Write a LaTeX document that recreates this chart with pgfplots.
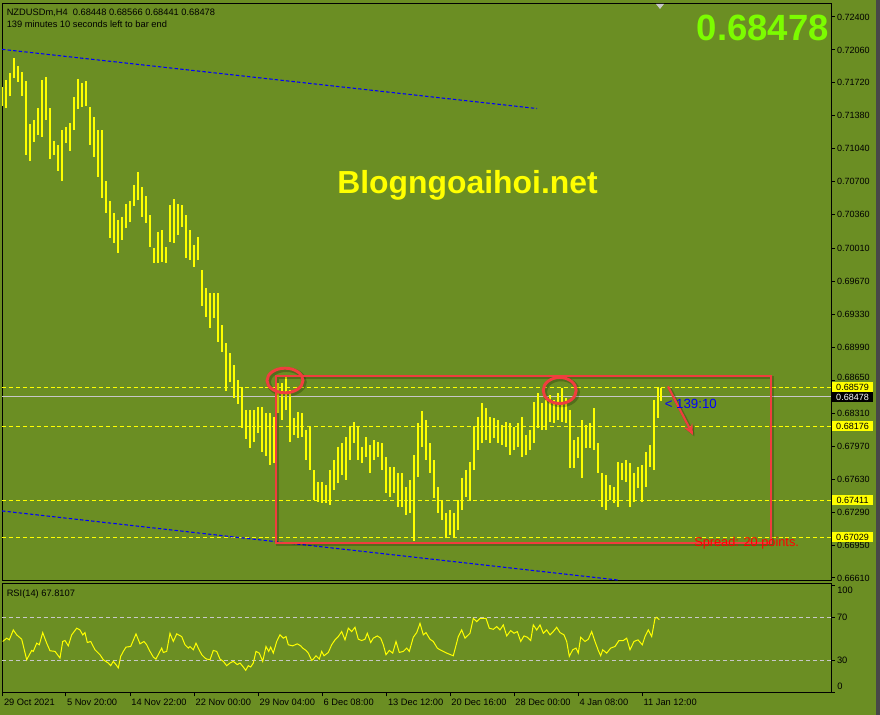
\documentclass[border=0pt]{standalone}
\usepackage{fontspec}
\setmainfont{Liberation Sans}
\usepackage{pgfplots}
\pgfplotsset{compat=1.18}
\usepackage{pgfplotstable}
\usetikzlibrary{arrows.meta}
\definecolor{bg}{RGB}{107,142,35}
\definecolor{lvl}{RGB}{255,255,0}
\definecolor{limeg}{RGB}{124,252,0}
\definecolor{rd}{RGB}{240,62,62}
\definecolor{sil}{RGB}{200,200,200}
\definecolor{chan}{RGB}{0,0,255}

\pgfplotstableread{
x h l
2 0.71677 0.71481
6 0.71749 0.71460
10 0.71822 0.71584
14 0.71976 0.71770
18 0.71894 0.71729
22 0.71832 0.71584
26 0.71739 0.70975
30 0.71295 0.70914
34 0.71337 0.71110
38 0.71460 0.71182
42 0.71749 0.71161
46 0.71780 0.71337
50 0.71460 0.70934
54 0.71120 0.70975
58 0.71079 0.70810
62 0.71233 0.70707
66 0.71264 0.71099
70 0.71306 0.71017
74 0.71574 0.71233
78 0.71760 0.71450
82 0.71718 0.71471
86 0.71739 0.71481
90 0.71471 0.71079
94 0.71368 0.70955
98 0.71233 0.70748
102 0.71233 0.70532
106 0.70707 0.70377
110 0.70501 0.70119
114 0.70377 0.70067
118 0.70305 0.69964
122 0.70336 0.70098
126 0.70470 0.70222
130 0.70501 0.70284
134 0.70666 0.70449
138 0.70800 0.70511
142 0.70645 0.70336
146 0.70552 0.70274
150 0.70356 0.70026
154 0.70016 0.69861
158 0.70181 0.69861
162 0.70201 0.69871
166 0.70026 0.69861
170 0.70459 0.70078
174 0.70521 0.70067
178 0.70470 0.70150
182 0.70459 0.70232
186 0.70356 0.69912
190 0.70201 0.69892
194 0.70047 0.69820
198 0.70129 0.69892
202 0.69789 0.69417
206 0.69603 0.69304
210 0.69551 0.69190
214 0.69551 0.69293
218 0.69551 0.69046
222 0.69221 0.68942
226 0.69035 0.68540
230 0.68932 0.68633
234 0.68808 0.68468
238 0.68653 0.68406
242 0.68581 0.68158
246 0.68344 0.68044
250 0.68344 0.67951
254 0.68344 0.68014
258 0.68375 0.68106
262 0.68375 0.67911
266 0.68313 0.67869
270 0.68313 0.67776
274 0.68272 0.67797
278 0.68622 0.68313
282 0.68622 0.68241
286 0.68695 0.68344
290 0.68550 0.68014
294 0.68261 0.68086
298 0.68323 0.68055
302 0.68313 0.68065
306 0.68137 0.67828
310 0.68168 0.67725
314 0.67725 0.67415
318 0.67601 0.67394
322 0.67601 0.67384
326 0.67570 0.67384
330 0.67725 0.67363
334 0.67828 0.67518
338 0.67962 0.67590
342 0.68003 0.67673
346 0.68065 0.67621
350 0.68168 0.67828
354 0.68220 0.68003
358 0.68168 0.67828
362 0.67962 0.67797
366 0.68065 0.67859
370 0.67983 0.67694
374 0.68034 0.67828
378 0.68014 0.67859
382 0.68003 0.67725
386 0.67859 0.67487
390 0.67756 0.67446
394 0.67756 0.67487
398 0.67694 0.67343
402 0.67694 0.67343
406 0.67549 0.67260
410 0.67621 0.67281
414 0.67879 0.66993
418 0.68210 0.67652
422 0.68334 0.67962
426 0.68241 0.67828
430 0.68003 0.67694
434 0.67828 0.67436
438 0.67549 0.67281
442 0.67415 0.67209
446 0.67281 0.67023
450 0.67312 0.67054
454 0.67281 0.67033
458 0.67415 0.67106
462 0.67642 0.67312
466 0.67725 0.67446
470 0.67807 0.67415
474 0.68168 0.67725
478 0.68272 0.67931
482 0.68416 0.68003
486 0.68364 0.68034
490 0.68272 0.68003
494 0.68261 0.68055
498 0.68241 0.68003
502 0.68189 0.67983
506 0.68220 0.67962
510 0.68210 0.67879
514 0.68168 0.67931
518 0.68210 0.67962
522 0.68272 0.67859
526 0.68086 0.67879
530 0.68137 0.67931
534 0.68424 0.68003
538 0.68519 0.68158
542 0.68416 0.68137
546 0.68447 0.68137
550 0.68499 0.68220
554 0.68447 0.68210
558 0.68519 0.68241
562 0.68571 0.68220
566 0.68468 0.68210
570 0.68344 0.67745
574 0.68034 0.67745
578 0.68065 0.67848
582 0.68241 0.67642
586 0.68189 0.67951
590 0.68210 0.67951
594 0.68364 0.67931
598 0.68003 0.67694
602 0.67694 0.67343
606 0.67673 0.67312
610 0.67570 0.67415
614 0.67549 0.67384
618 0.67807 0.67343
622 0.67797 0.67621
626 0.67828 0.67601
630 0.67797 0.67343
634 0.67694 0.67394
638 0.67756 0.67539
642 0.67776 0.67394
646 0.67911 0.67549
650 0.67983 0.67756
654 0.68447 0.67725
658 0.68581 0.68261
661 0.68566 0.68441
}\bars

\begin{document}
\begin{tikzpicture}
\fill[bg] (0,0) rectangle (660bp,536.25bp);
\fill[black!72] (657bp,0) rectangle (660bp,536.25bp);

% ---------------- main price panel
\begin{axis}[
  at={(1.5bp,100.5bp)}, anchor=south west,
  width=621.75bp, height=432.75bp, scale only axis,
  xmin=2, xmax=831, ymin=0.66579, ymax=0.72534,
  clip mode=individual,
  axis line style={black, line width=0.75bp},
  xtick=\empty,
  ytick={0.72400,0.72060,0.71720,0.71380,0.71040,0.70700,0.70360,0.70010,0.69670,0.69330,0.68990,0.68310,0.67970,0.67630,0.67290,0.66950,0.66610},
  yticklabels={0.72400,0.72060,0.71720,0.71380,0.71040,0.70700,0.70360,0.70010,0.69670,0.69330,0.68990,0.68310,0.67970,0.67630,0.67290,0.66950,0.66610},
  extra y ticks={0.68650}, extra y tick labels={0.68650},
  extra y tick style={yticklabel style={yshift=2.2bp}},
  scaled y ticks=false,
  ytick pos=right, yticklabel pos=right,
  tick align=outside, major tick length=3bp,
  tick style={black, line width=0.75bp},
  yticklabel style={font=\fontsize{6.8}{8}\selectfont, anchor=west, inner sep=0pt, xshift=1.3bp, text=black},
]
% horizontal levels
\addplot[lvl, line width=0.75bp, dash pattern=on 3bp off 2.2bp] coordinates {(2,0.68579) (831,0.68579)};
\addplot[lvl, line width=0.75bp, dash pattern=on 3bp off 2.2bp] coordinates {(2,0.68176) (831,0.68176)};
\addplot[lvl, line width=0.75bp, dash pattern=on 3bp off 2.2bp] coordinates {(2,0.67411) (831,0.67411)};
\addplot[lvl, line width=0.75bp, dash pattern=on 3bp off 2.2bp] coordinates {(2,0.67029) (831,0.67029)};
\addplot[sil, line width=0.75bp] coordinates {(2,0.68478) (831,0.68478)};
% channel lines
\addplot[chan, line width=0.8bp, dash pattern=on 2.6bp off 1.6bp] coordinates {(2,0.72066) (537,0.71455)};
\addplot[chan, line width=0.8bp, dash pattern=on 2.6bp off 1.6bp] coordinates {(2,0.67302) (618,0.66589)};
% price bars (high-low)
\addplot[draw=none, mark=none,
  error bars/.cd, y dir=minus, y explicit, error mark=none,
  error bar style={draw=lvl, line width=1.75bp}]
  table[x=x, y=h, y error expr=\thisrow{h}-\thisrow{l}] {\bars};
\coordinate (L1) at (axis cs:831,0.68579);
\coordinate (L2) at (axis cs:831,0.68478);
\coordinate (L3) at (axis cs:831,0.68176);
\coordinate (L4) at (axis cs:831,0.67411);
\coordinate (L5) at (axis cs:831,0.67029);
\end{axis}

% ---------------- RSI panel
\begin{axis}[
  at={(1.5bp,16.875bp)}, anchor=south west,
  width=621.75bp, height=81.75bp, scale only axis,
  xmin=2, xmax=831, ymin=-0.4, ymax=101.7,
  clip mode=individual,
  axis line style={black, line width=0.75bp},
  xtick={2.7,65.7,130,194.3,258.3,322.3,386.7,450,514,578.3,642.3},
  xticklabels={29 Oct 2021,5 Nov 20:00,14 Nov 22:00,22 Nov 00:00,29 Nov 04:00,6 Dec 08:00,13 Dec 12:00,20 Dec 16:00,28 Dec 00:00,4 Jan 08:00,11 Jan 12:00},
  ytick={30,70}, yticklabels={30,70},
  extra y ticks={0,100}, extra y tick labels={},
  xtick pos=left, xticklabel pos=left,
  ytick pos=right, yticklabel pos=right,
  tick align=outside, major tick length=3bp,
  tick style={black, line width=0.75bp},
  yticklabel style={font=\fontsize{7}{8}\selectfont, anchor=west, inner sep=0pt, xshift=1.3bp, text=black},
  xticklabel style={font=\fontsize{7}{8}\selectfont, anchor=north west, inner sep=0pt, xshift=0.8bp, yshift=-1.5bp, text=black},
]
\addplot[sil, line width=0.75bp, dash pattern=on 3bp off 2.2bp] coordinates {(2,70) (831,70)};
\addplot[sil, line width=0.75bp, dash pattern=on 3bp off 2.2bp] coordinates {(2,30) (831,30)};
\addplot[lvl, line width=0.75bp] coordinates {
(2.7,47.4) (6.7,50.5) (9.3,48.9) (13.3,58.2) (16.7,53.6) (21.7,49.5) (26.7,30.3) (31.7,39.0)
(33.3,38.1) (36.7,45.8) (39.3,44.3) (42.7,55.7) (46.7,45.8) (50.0,38.7) (55.0,38.1) (60.0,31.9)
(62.7,47.4) (65.0,48.3) (68.3,43.3) (71.7,53.6) (76.7,59.8) (80.0,58.2) (82.7,53.6) (85.0,55.7)
(87.3,46.4) (90.7,47.4) (95.0,39.6) (100.0,35.0) (103.3,30.3) (108.3,27.2) (110.7,24.7) (113.3,28.8)
(116.0,25.7) (118.3,22.6) (120.7,33.4) (123.3,38.1) (126.0,42.1) (130.7,42.7) (136.0,54.5) (140.0,45.2)
(144.0,47.4) (146.7,44.3) (150.0,38.1) (153.3,32.8) (156.0,30.9) (158.7,35.9) (161.7,41.2) (163.3,37.1)
(166.7,38.1) (170.0,55.1) (173.3,47.4) (176.7,54.5) (181.7,52.0) (185.0,44.3) (188.3,41.2) (190.0,42.7)
(193.3,39.6) (196.0,45.8) (198.3,41.2) (201.7,35.0) (205.0,31.9) (206.7,30.9) (210.0,30.3) (213.3,39.0)
(216.7,38.1) (220.0,30.9) (223.3,28.8) (226.7,24.7) (230.0,27.2) (233.3,28.8) (237.3,25.7) (240.0,27.2)
(243.3,23.5) (245.7,20.4) (248.3,24.7) (250.7,23.5) (253.3,27.2) (256.0,38.1) (259.3,36.5) (262.7,28.8)
(266.0,42.7) (268.7,38.1) (270.7,42.1) (273.3,36.5) (276.7,47.4) (280.0,53.6) (283.3,50.5) (286.0,52.0)
(288.3,44.3) (292.7,43.3) (297.3,45.2) (300.7,43.3) (302.7,41.2) (306.0,39.0) (308.3,36.5) (311.7,29.7)
(313.3,30.9) (316.0,34.0) (319.3,30.9) (321.7,38.1) (324.0,34.0) (328.3,37.1) (331.7,44.3) (335.0,48.9)
(338.3,52.0) (341.7,56.7) (345.0,48.9) (348.3,59.8) (351.7,56.7) (355.0,60.7) (358.3,49.5) (361.7,48.3)
(365.0,49.5) (367.3,55.1) (370.7,46.4) (373.3,50.5) (377.3,52.6) (380.7,50.5) (383.3,44.3) (386.0,35.0)
(389.3,39.0) (392.7,36.5) (396.0,47.4) (399.3,37.1) (403.3,38.1) (406.7,41.2) (409.3,38.1) (413.3,51.4)
(416.7,55.7) (420.0,64.4) (423.3,53.6) (426.0,55.7) (430.0,49.5) (433.3,47.4) (437.3,41.2) (440.0,39.6)
(446.7,36.5) (453.3,34.0) (458.3,52.0) (461.7,58.2) (465.0,50.5) (470.0,55.1) (473.3,69.1) (476.7,66.0)
(480.0,69.1) (486.0,69.1) (489.3,59.8) (493.3,58.8) (496.7,61.3) (500.0,58.2) (503.3,62.9) (506.7,52.6)
(510.7,57.6) (514.0,55.1) (517.3,56.7) (520.7,47.4) (524.0,52.6) (527.3,51.4) (530.7,48.3) (533.3,62.9)
(536.7,58.2) (540.0,62.9) (543.3,55.1) (546.7,58.2) (550.0,53.6) (553.3,56.7) (556.7,60.7) (560.0,55.7)
(564.0,53.6) (566.7,47.4) (569.3,33.4) (572.7,39.6) (576.0,41.2) (578.3,36.5) (580.7,51.4) (585.0,47.4)
(588.3,49.5) (591.7,56.7) (595.0,47.4) (598.3,39.0) (600.7,34.0) (602.7,39.6) (606.7,36.5) (610.7,41.2)
(615.0,42.7) (619.0,48.3) (623.3,48.3) (626.7,50.5) (630.0,39.6) (634.0,47.4) (638.0,48.9) (642.3,44.3)
(645.0,52.0) (648.3,58.2) (651.7,52.0) (655.0,69.1) (656.7,70.0) (659.3,67.8)
};
\end{axis}

% level price boxes on the right scale
\foreach \c/\t in {L1/0.68579,L3/0.68176,L4/0.67411,L5/0.67029}
  \node[fill=lvl, text=black, anchor=west, inner sep=0pt, minimum width=30.75bp, minimum height=7.6bp,
        font=\fontsize{6.8}{8}\selectfont, xshift=0.6bp] at (\c) {\t};
\node[fill=black, text=white, anchor=west, inner sep=0pt, minimum width=30.75bp, minimum height=7.6bp,
      font=\fontsize{6.8}{8}\selectfont, xshift=0.6bp] at (L2) {0.68478};

% ---------------- annotations in pixel coordinates
\begin{scope}[x=0.75bp, y=-0.75bp, shift={(0bp,536.25bp)}]
  \fill[sil] (656,4) -- (664,4) -- (660,9) -- cycle;
  \node[anchor=base west, inner sep=0pt, font=\fontsize{7}{8}\selectfont, text=black] at (6.5,15.5)
     {NZDUSDm,H4\ \ 0.68448 0.68566 0.68441 0.68478};
  \node[anchor=base west, inner sep=0pt, font=\fontsize{7}{8}\selectfont, text=black] at (6.5,27.5)
     {139 minutes 10 seconds left to bar end};
  \node[anchor=base east, inner sep=0pt, font=\fontsize{27.5}{30}\selectfont\bfseries, text=limeg] at (829,40.5) {0.68478};
  \node[anchor=base, inner sep=0pt, font=\fontsize{24}{28}\selectfont\bfseries, text=lvl] at (467.5,194) {Blogngoaihoi.net};
  % soft shadows of the drawn objects
  \begin{scope}[shift={(1.5,1.5)}, black, opacity=0.22]
    \draw[line width=2.4bp] (276,376) rectangle (771,543);
    \draw[line width=3.4bp] (285,380.5) ellipse [x radius=18, y radius=12.3];
    \draw[line width=3.4bp] (559.7,390.5) ellipse [x radius=16.5, y radius=13];
    \draw[line width=2.6bp, -{Stealth[length=8bp, width=7bp]}] (668,386.5) -- (693,435);
  \end{scope}
  % red range box, circles, arrow
  \draw[rd, line width=1.4bp] (276,376) rectangle (771,543);
  \draw[rd, line width=2.2bp] (285,380.5) ellipse [x radius=18, y radius=12.3];
  \draw[rd, line width=2.2bp] (559.7,390.5) ellipse [x radius=16.5, y radius=13];
  \draw[rd, line width=1.6bp, -{Stealth[length=8bp, width=7bp]}] (668,386.5) -- (693,435);
  \node[anchor=west, inner sep=0pt, font=\fontsize{10}{12}\selectfont, text=chan] at (664.5,403.5) {< 139:10};
  \node[anchor=west, inner sep=0pt, font=\fontsize{9.6}{11}\selectfont, text=red] at (694,543) {Spread: 20 points.};
  \node[anchor=base west, inner sep=0pt, font=\fontsize{7}{8}\selectfont, text=black] at (6.5,597) {RSI(14) 67.8107};
  \node[anchor=west, inner sep=0pt, font=\fontsize{7}{8}\selectfont, text=black] at (837,590.7) {100};
  \node[anchor=west, inner sep=0pt, font=\fontsize{7}{8}\selectfont, text=black] at (837,686.7) {0};
\end{scope}
\end{tikzpicture}
\end{document}
